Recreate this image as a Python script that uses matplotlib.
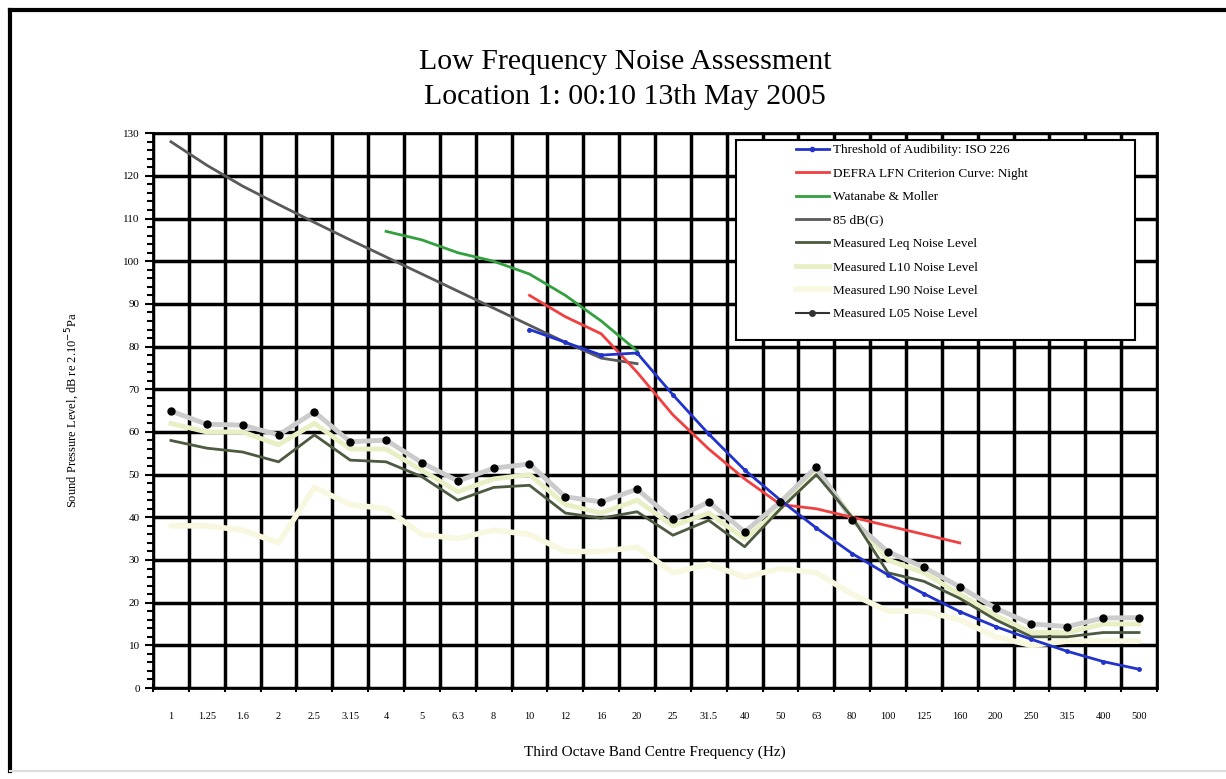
import matplotlib.pyplot as plt
import numpy as np
from matplotlib.patches import Rectangle
from matplotlib.lines import Line2D

plt.rcParams['font.family'] = ['Liberation Serif', 'DejaVu Serif']

bands = ["1", "1.25", "1.6", "2", "2.5", "3.15", "4", "5", "6.3", "8", "10", "12",
         "16", "20", "25", "31.5", "40", "50", "63", "80", "100", "125", "160", "200",
         "250", "315", "400", "500"]

# reference curves (start index into bands, values)
iso226_start = 10
iso226 = [84, 81, 78, 78.5, 68.7, 59.5, 51.1, 44.0, 37.5, 31.5, 26.5, 22.1, 17.9,
          14.4, 11.4, 8.6, 6.2, 4.4]
defra_start = 10
defra = [92, 87, 83, 74, 64, 56, 49, 43, 42, 40, 38, 36, 34]
wm_start = 6
wm = [107, 105, 102, 100, 97, 92, 86, 79]
g85_start = 0
g85 = [128, 122.5, 117.6, 113.3, 109.1, 105, 101, 97, 93, 89, 85, 81, 77.3, 76]

# measured levels
leq = [58, 56.2, 55.3, 53, 59.3, 53.4, 53, 49.5, 44, 47, 47.5, 41, 39.8, 41.3, 35.8,
       39.3, 33.1, 42, 50, 40, 27, 25, 21, 16, 12, 12, 13, 13]
l10 = [62, 60, 60, 57, 62, 56, 56, 51, 46, 49, 50, 43, 41, 44, 38, 41, 35, 42, 51,
       40, 30, 27, 22, 17, 13, 13, 15, 15]
l90 = [38, 38, 37, 34, 47, 43, 42, 36, 35, 37, 36, 32, 32, 33, 27, 29, 26, 28, 27,
       22, 18, 18, 16, 12, 10, 11, 11, 11]
l05 = [64.9, 61.8, 61.6, 59.3, 64.7, 57.7, 58.1, 52.8, 48.5, 51.5, 52.5, 44.8, 43.6,
       46.6, 39.5, 43.6, 36.6, 43.6, 51.8, 39.3, 31.9, 28.3, 23.7, 18.7, 15.0, 14.4,
       16.4, 16.5]

fig = plt.figure(figsize=(12.26, 7.79), dpi=100)
ax = fig.add_axes([0.1248, 0.1168, 0.8189, 0.7122])

x = np.arange(len(bands))

ax.plot(x, l90, color='#f8f8e0', lw=4, solid_capstyle='round', zorder=3)
ax.plot(x, l10, color='#e9efc4', lw=3.5, zorder=4)
ax.plot(x, l05, color='#cccccc', lw=3.5, zorder=4)
ax.plot(x, leq, color='#4b5a40', lw=2, zorder=5)
ax.plot(x, l05, ls='none', marker='o', color='black', ms=5, zorder=6)

ax.plot(x[g85_start:g85_start + len(g85)], g85, color='#5a5a5a', lw=2, zorder=5)
ax.plot(x[wm_start:wm_start + len(wm)], wm, color='#33a040', lw=2, zorder=5)
ax.plot(x[defra_start:defra_start + len(defra)], defra, color='#f04040', lw=2, zorder=5)
ax.plot(x[iso226_start:iso226_start + len(iso226)], iso226, color='#2233cc', lw=2,
        marker='o', ms=2.5, zorder=5)

ax.set_xlim(-0.5, len(bands) - 0.5)
ax.set_ylim(0, 130)

ax.set_xticks(x)
ax.set_xticklabels(bands, fontsize=7.5)
ax.set_xticks(np.arange(len(bands) + 1) - 0.5, minor=True)
ax.tick_params(axis='x', which='major', length=0, pad=17)
ax.tick_params(axis='x', which='minor', length=6, width=1.5, direction='inout')

ax.set_yticks(np.arange(0, 131, 10))
ax.set_yticks(np.arange(0, 131, 2), minor=True)
ax.tick_params(axis='y', which='major', labelsize=8, length=6, width=1.5)
ax.tick_params(axis='y', which='minor', length=4, width=1.5)

ax.grid(True, which='major', axis='y', color='black', lw=2.5)
ax.grid(True, which='minor', axis='x', color='black', lw=2.5)
ax.set_axisbelow(True)
for s in ax.spines.values():
    s.set_linewidth(2)

ax.set_xlabel("Third Octave Band Centre Frequency (Hz)", fontsize=11, labelpad=18)
ax.set_ylabel("Sound Pressure Level, dB re 2.10$^{-5}$Pa", fontsize=9, labelpad=30)

fig.text(0.51, 0.92, "Low Frequency Noise Assessment", ha='center', va='center',
         fontsize=21.5)
fig.text(0.51, 0.875, "Location 1: 00:10 13th May 2005", ha='center', va='center',
         fontsize=21.5)

# legend box
ax.add_patch(Rectangle((0.581, 0.627), 0.397, 0.360, transform=ax.transAxes,
                       facecolor='white', edgecolor='black', lw=1.5, zorder=8))
handles = [
    Line2D([], [], color='#2233cc', lw=2, marker='o', ms=3),
    Line2D([], [], color='#f04040', lw=2),
    Line2D([], [], color='#33a040', lw=2),
    Line2D([], [], color='#5a5a5a', lw=2),
    Line2D([], [], color='#4b5a40', lw=2),
    Line2D([], [], color='#e9efc4', lw=3.5),
    Line2D([], [], color='#f8f8e0', lw=4),
    Line2D([], [], color='#333333', lw=1.5, marker='o', ms=4),
]
labels = ["Threshold of Audibility: ISO 226", "DEFRA LFN Criterion Curve: Night",
          "Watanabe & Moller", "85 dB(G)", "Measured Leq Noise Level",
          "Measured L10 Noise Level", "Measured L90 Noise Level",
          "Measured L05 Noise Level"]
leg = ax.legend(handles, labels, loc='upper left', bbox_to_anchor=(0.635, 0.99),
                frameon=False, fontsize=9.5, handlelength=2.5, handletextpad=0.3,
                labelspacing=0.85, borderaxespad=0)
leg.set_zorder(9)

# figure border
fig.add_artist(Line2D([0.008, 1.0], [0.987, 0.987], transform=fig.transFigure,
                      color='black', lw=3))
fig.add_artist(Line2D([0.008, 0.008], [0.01, 0.987], transform=fig.transFigure,
                      color='black', lw=3))
fig.add_artist(Line2D([0.008, 1.0], [0.01, 0.01], transform=fig.transFigure,
                      color='#dddddd', lw=1.5))

fig.savefig("out.png", dpi=100)
